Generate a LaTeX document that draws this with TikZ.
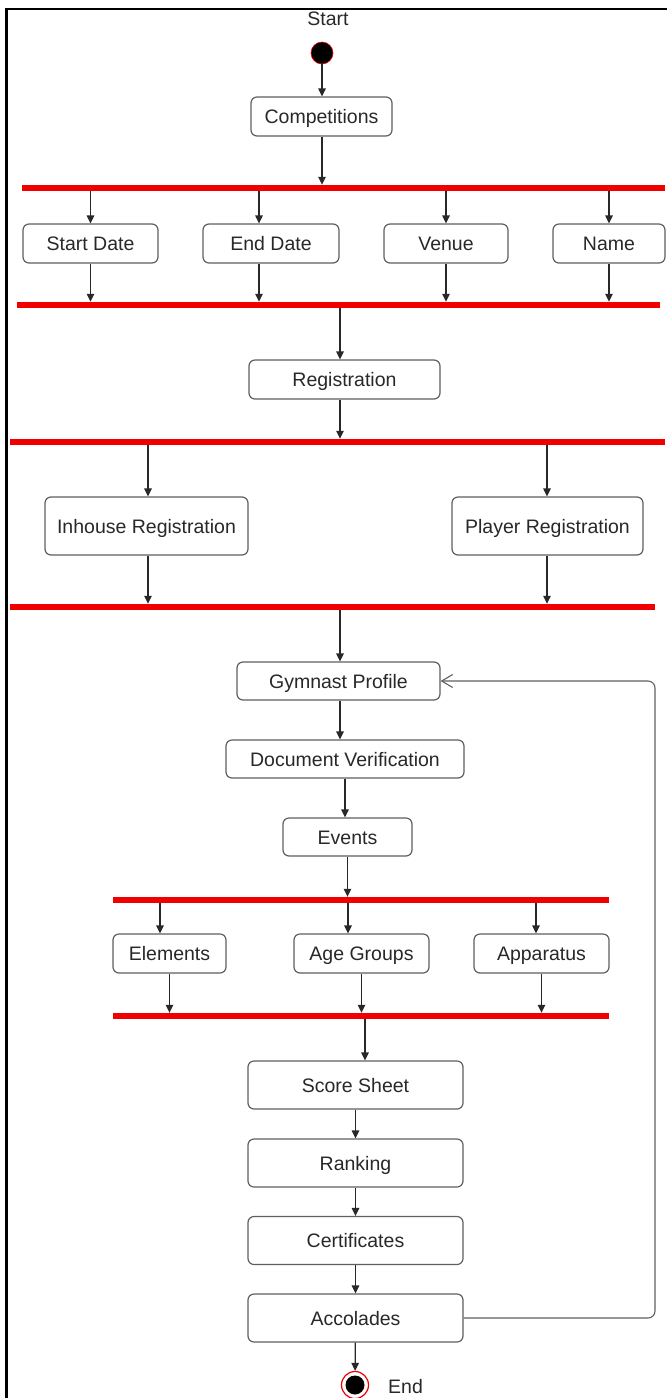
\documentclass[tikz,border=0pt]{standalone}
\usepackage{fontspec}
\setmainfont{Liberation Sans}
\usetikzlibrary{arrows.meta,positioning}
\definecolor{barred}{RGB}{240,0,0}
\definecolor{boxline}{RGB}{95,95,95}
\definecolor{inkgray}{RGB}{40,40,40}

\begin{document}
\begin{tikzpicture}[
  x=1pt, y=-1pt,
  font=\fontsize{19.5}{22}\selectfont,
  arrow/.style={-{Triangle[length=8pt,width=7.5pt]}, line width=1.2pt, draw=inkgray},
  backloop/.style={-{Straight Barb[length=11pt,width=13pt]}, line width=1.1pt, draw=boxline, rounded corners=7pt},
  act/.style={draw=boxline, line width=1.2pt, rounded corners=6pt, fill=white, text=inkgray, inner sep=0pt,
    text height=14pt, text depth=0pt},
  forkbar/.style={fill=barred, draw=none, minimum height=6pt, inner sep=0pt},
  label/.style={text=inkgray, inner sep=0pt}
]
\useasboundingbox (0,0) rectangle (667,1398);

% Frame
\draw[line width=2.6pt] (6.3,1398) -- (6.3,9) -- (667,9);

% Start
\node[label] (starttxt) at (328,18.5) {Start};
\node[circle, fill=black, draw=barred, line width=0.6pt, minimum size=22pt, inner sep=0pt] (init) at (322,53) {};
\node[act, minimum width=141pt, minimum height=39pt] (comp) at (321.5,116.5) {Competitions};
\draw[arrow] (init) -- (comp.north -| init);

% Fork 1
\node[forkbar, minimum width=643pt] (bar1) at (343.5,188) {};
\draw[arrow] (comp.south -| init) -- (bar1.north -| init);
\node[act, minimum width=135pt, minimum height=39pt] (sdate) at (90.5,243.5) {Start Date};
\node[act, minimum width=136pt, minimum height=39pt] (edate) at (271,243.5) {End Date};
\node[act, minimum width=124pt, minimum height=39pt] (venue) at (446,243.5) {Venue};
\node[act, minimum width=112pt, minimum height=39pt] (cname) at (609,243.5) {Name};
\node[forkbar, minimum width=643pt] (bar2) at (338.5,305) {};
\coordinate (edx) at (259,0);
\foreach \b in {sdate,venue,cname} {
  \draw[arrow] (bar1.south -| \b.north) -- (\b.north);
  \draw[arrow] (\b.south) -- (bar2.north -| \b.south);
}
\draw[arrow] (bar1.south -| edx) -- (edate.north -| edx);
\draw[arrow] (edate.south -| edx) -- (bar2.north -| edx);

% Registration
\coordinate (regx) at (340,0);
\node[act, minimum width=191pt, minimum height=39pt] (reg) at (344.5,379.5) {Registration};
\node[forkbar, minimum width=655pt] (bar3) at (337.5,442) {};
\draw[arrow] (bar2.south -| regx) -- (reg.north -| regx);
\draw[arrow] (reg.south -| regx) -- (bar3.north -| regx);

% Fork 3
\node[act, minimum width=203pt, minimum height=58pt] (inreg) at (146.5,526) {Inhouse Registration};
\node[act, minimum width=191pt, minimum height=58pt] (plreg) at (547.5,526) {Player Registration};
\node[forkbar, minimum width=645pt] (bar4) at (332.5,607) {};
\coordinate (inx) at (148,0);
\coordinate (plx) at (547,0);
\foreach \b/\c in {inreg/inx,plreg/plx} {
  \draw[arrow] (bar3.south -| \c) -- (\b.north -| \c);
  \draw[arrow] (\b.south -| \c) -- (bar4.north -| \c);
}

% Profile chain
\node[act, minimum width=203pt, minimum height=38pt] (gprof) at (338.5,681) {Gymnast Profile};
\node[act, minimum width=238pt, minimum height=38pt] (docver) at (345,759) {Document Verification};
\node[act, minimum width=129pt, minimum height=38pt] (events) at (347.5,837) {Events};
\draw[arrow] (bar4.south -| regx) -- (gprof.north -| regx);
\draw[arrow] (gprof.south -| regx) -- (docver.north -| regx);
\draw[arrow] (docver.south) -- (events.north -| docver.south);

% Fork 5
\node[forkbar, minimum width=496pt] (bar5) at (361,900) {};
\draw[arrow] (events.south) -- (bar5.north -| events.south);
\node[act, minimum width=113pt, minimum height=39pt] (elem) at (169.5,953.5) {Elements};
\node[act, minimum width=135pt, minimum height=39pt] (agegrp) at (361.5,953.5) {Age Groups};
\node[act, minimum width=135pt, minimum height=39pt] (appar) at (541.5,953.5) {Apparatus};
\node[forkbar, minimum width=496pt] (bar6) at (361,1016) {};
\coordinate (elx) at (160,0);
\coordinate (agx) at (348,0);
\coordinate (apx) at (536,0);
\draw[arrow] (bar5.south -| elx) -- (elem.north -| elx);
\draw[arrow] (bar5.south -| agx) -- (agegrp.north -| agx);
\draw[arrow] (bar5.south -| apx) -- (appar.north -| apx);
\foreach \b in {elem,agegrp,appar}
  \draw[arrow] (\b.south) -- (bar6.north -| \b.south);

% Results chain
\node[act, minimum width=215pt, minimum height=48pt] (score) at (355.5,1085) {Score Sheet};
\node[act, minimum width=215pt, minimum height=48pt] (rank) at (355.5,1163) {Ranking};
\node[act, minimum width=215pt, minimum height=48pt] (cert) at (355.5,1240.5) {Certificates};
\node[act, minimum width=215pt, minimum height=48pt] (accol) at (355.5,1318) {Accolades};
\coordinate (scx) at (365,0);
\draw[arrow] (bar6.south -| scx) -- (score.north -| scx);
\draw[arrow] (score) -- (rank);
\draw[arrow] (rank) -- (cert);
\draw[arrow] (cert) -- (accol);

% End
\node[circle, draw=barred, line width=1.2pt, fill=white, minimum size=27pt, inner sep=0pt] (final) at (355,1385) {};
\node[circle, fill=black, minimum size=19pt, inner sep=0pt] (finaldot) at (final.center) {};
\node[label, anchor=west] (endtxt) at (388,1387) {End};
\draw[arrow] (accol) -- (final);

% Loop back
\coordinate (loopx) at (655,0);
\draw[backloop] (accol.east) -- (accol.east -| loopx) -- (gprof.east -| loopx) -- (gprof.east);

\end{tikzpicture}
\end{document}
